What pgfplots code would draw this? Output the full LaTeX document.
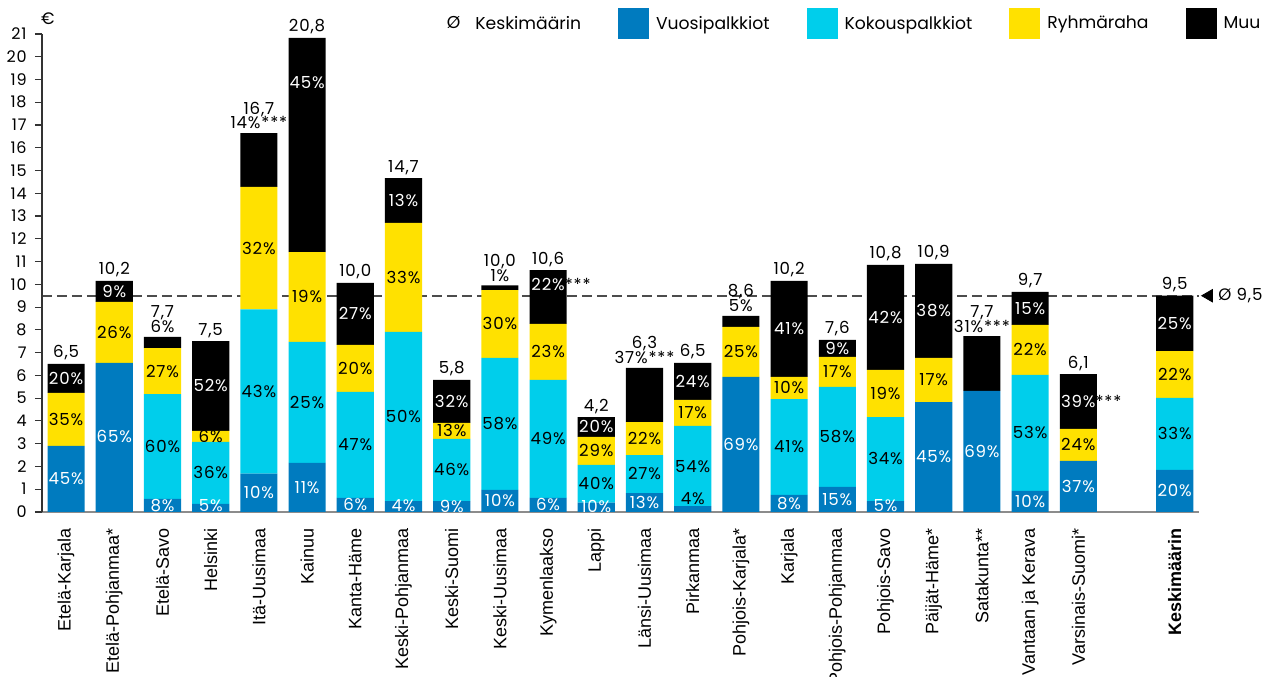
\documentclass[border=0pt]{standalone}
\usepackage{fontspec}
\setmainfont{Poppins}
\newfontfamily\numfont{Poppins}[LetterSpace=5]
\newfontfamily\tickfont{Liberation Sans}
\usepackage{pgfplots}
\usepackage{pgfplotstable}
\pgfplotsset{compat=1.18}

\definecolor{vuosi}{HTML}{007BBF}
\definecolor{kokous}{HTML}{00CEEB}
\definecolor{ryhma}{HTML}{FFE100}
\definecolor{muu}{HTML}{000000}

\newcommand\lblfont{\numfont\fontsize{8.3}{9}\selectfont}
\protected\def\kyast{22\%\rlap{\color{black}***}}
\protected\def\vsast{39\%\rlap{\color{black}***}}

% labels on blue and black segments (white text)
\pgfplotstableread{
x y label
0 1.45 45\%
1 3.30 65\%
2 0.27 8\%
3 0.26 5\%
4 0.84 10\%
5 1.08 11\%
6 0.31 6\%
7 0.26 4\%
8 0.26 9\%
9 0.49 10\%
10 0.31 6\%
11 0.24 10\%
12 0.42 13\%
14 2.97 69\%
15 0.38 8\%
16 0.55 15\%
17 0.26 5\%
18 2.42 45\%
19 2.66 69\%
20 0.46 10\%
21 1.12 37\%
23 0.93 20\%
0 5.87 20\%
1 9.69 9\%
3 5.54 52\%
5 18.87 45\%
6 8.70 27\%
7 13.69 13\%
8 4.86 32\%
10 10.00 \kyast
11 3.74 20\%
13 5.74 24\%
15 8.04 41\%
16 7.19 9\%
17 8.55 42\%
18 8.84 38\%
20 8.95 15\%
21 4.86 \vsast
23 8.29 25\%
}\whitelabels

% labels on cyan and yellow segments (black text)
\pgfplotstableread{
x y label
2 2.88 60\%
3 1.72 36\%
4 5.29 43\%
5 4.81 25\%
6 2.95 47\%
7 4.20 50\%
8 1.85 46\%
9 3.87 58\%
10 3.21 49\%
11 1.24 40\%
12 1.67 27\%
13 1.98 54\%
13 0.58 4\%
15 2.86 41\%
16 3.30 58\%
17 2.33 34\%
20 3.47 53\%
23 3.43 33\%
0 4.07 35\%
1 7.89 26\%
2 6.19 27\%
3 3.32 6\%
4 11.59 32\%
5 9.45 19\%
6 6.31 20\%
7 10.31 33\%
8 3.56 13\%
9 8.26 30\%
10 7.03 23\%
11 2.69 29\%
12 3.23 22\%
13 4.35 17\%
14 7.03 25\%
15 5.45 10\%
16 6.15 17\%
17 5.21 19\%
18 5.80 17\%
20 7.12 22\%
21 2.95 24\%
23 6.04 22\%
}\blacklabels

% small "Muu" shares written above the bar
\pgfplotstableread{
x y label
2 7.69 6\%
4 16.65 14\%***
9 9.95 1\%
12 6.33 37\%***
14 8.61 5\%
19 7.73 31\%***
}\abovelabels

% totals
\pgfplotstableread{
x y label
0 6.50 6,5
1 10.15 10,2
3 7.51 7,5
5 20.83 20,8
6 10.06 10,0
7 14.67 14,7
8 5.80 5,8
10 10.63 10,6
11 4.17 4,2
13 6.55 6,5
15 10.15 10,2
16 7.56 7,6
17 10.85 10,8
18 10.90 10,9
20 9.67 9,7
21 6.06 6,1
23 9.50 9,5
}\totals

\pgfplotstableread{
x y label
2 7.69 7,7
4 16.65 16,7
9 9.95 10,0
12 6.33 6,3
14 8.61 8,6
19 7.73 7,7
}\totalshigh

\begin{document}
\begin{tikzpicture}
\pgfplotsset{
  base/.style={at={(0,0)}, anchor=south west, width=578.5pt, height=239pt,
    scale only axis, xmin=-0.5, xmax=23.5, ymin=0, ymax=21, clip=false},
  boxlegend/.style={legend image code/.code={\fill[##1] (0pt,-7.75pt) rectangle (15.5pt,7.75pt);}},
}

% average line behind the bars
\begin{axis}[base, hide axis]
\addplot[draw=black!70, line width=0.8pt, dash pattern=on 5pt off 2.5pt]
  coordinates {(-0.5,9.5) (23.5,9.5)};
\addplot[only marks, mark=triangle*, mark size=3.6pt,
  mark options={rotate=90, fill=black, draw=black},
  nodes near coords={Ø 9,5},
  every node near coord/.append style={anchor=west, xshift=4.5pt, inner sep=0pt, font=\lblfont}]
  coordinates {(23.71,9.5)};
\end{axis}

\begin{axis}[base, ybar stacked, bar width=0.77,
  axis x line=bottom, axis y line=left,
  x axis line style={-, draw=black!45, line width=1.1pt},
  y axis line style={-, draw=black!80, line width=0.6pt},
  xtick={0,...,21,23},
  xticklabels={Etelä-Karjala, Etelä-Pohjanmaa*, Etelä-Savo, Helsinki, Itä-Uusimaa,
    Kainuu, Kanta-Häme, Keski-Pohjanmaa, Keski-Suomi, Keski-Uusimaa, Kymenlaakso,
    Lappi, Länsi-Uusimaa, Pirkanmaa, Pohjois-Karjala*, Karjala, Pohjois-Pohjanmaa,
    Pohjois-Savo, Päijät-Häme*, Satakunta**, Vantaan ja Kerava, Varsinais-Suomi*,
    {\bfseries Keskimäärin}},
  xtick style={draw=none},
  xticklabel style={rotate=90, anchor=east, inner sep=0pt, xshift=-4.5pt,
    font=\tickfont\fontsize{9}{10}\selectfont},
  ytick={0,...,21},
  tick align=outside, major tick length=3.5pt,
  ytick style={draw=black!80, line width=0.6pt},
  yticklabel style={font=\numfont\fontsize{8}{8}\selectfont, inner sep=0pt, xshift=-4pt,
    /pgf/number format/assume math mode=true},
  ylabel={€},
  every axis y label/.style={at={(rel axis cs:0.005,1.033)}, anchor=center, font=\lblfont},
  legend columns=5,
  legend style={at={(1.057,1.021)}, anchor=east, draw=none, fill=none, inner sep=0pt,
    font=\fontsize{8.6}{9}\selectfont,
    /tikz/every odd column/.append style={column sep=1.5pt},
    /tikz/every even column/.append style={column sep=16.5pt}},
]
\addlegendimage{legend image code/.code={
  \node[inner sep=0pt, anchor=west, text=black, font=\fontsize{8.6}{9}\selectfont] at (0pt,0pt) {Ø};
  \path[draw=none, fill=none] (0pt,-7.75pt) rectangle (11pt,7.75pt);}}
\addplot[fill=vuosi, draw=none, boxlegend] coordinates {
  (0,2.90) (1,6.55) (2,0.57) (3,0.35) (4,1.68) (5,2.15) (6,0.62) (7,0.48)
  (8,0.48) (9,0.97) (10,0.62) (11,0.41) (12,0.83) (13,0.26) (14,5.93) (15,0.75)
  (16,1.10) (17,0.48) (18,4.83) (19,5.32) (20,0.92) (21,2.24) (23,1.85)};
\addplot[fill=kokous, draw=none, boxlegend] coordinates {
  (0,0) (1,0) (2,4.61) (3,2.73) (4,7.22) (5,5.32) (6,4.65) (7,7.43)
  (8,2.73) (9,5.80) (10,5.18) (11,1.66) (12,1.67) (13,3.52) (14,0) (15,4.21)
  (16,4.39) (17,3.69) (18,0) (19,0) (20,5.10) (21,0) (23,3.16)};
\addplot[fill=ryhma, draw=none, boxlegend] coordinates {
  (0,2.33) (1,2.68) (2,2.02) (3,0.48) (4,5.38) (5,3.95) (6,2.07) (7,4.79)
  (8,0.70) (9,2.98) (10,2.46) (11,1.23) (12,1.45) (13,1.14) (14,2.20) (15,0.97)
  (16,1.32) (17,2.07) (18,1.94) (19,0) (20,2.20) (21,1.41) (23,2.06)};
\addplot[fill=muu, draw=none, boxlegend] coordinates {
  (0,1.27) (1,0.92) (2,0.49) (3,3.95) (4,2.37) (5,9.41) (6,2.72) (7,1.97)
  (8,1.89) (9,0.20) (10,2.37) (11,0.87) (12,2.38) (13,1.63) (14,0.48) (15,4.22)
  (16,0.75) (17,4.61) (18,4.13) (19,2.41) (20,1.45) (21,2.41) (23,2.43)};
\legend{Keskimäärin, Vuosipalkkiot, Kokouspalkkiot, Ryhmäraha, Muu}
\end{axis}

% value labels on top
\begin{axis}[base, hide axis, point meta=explicit symbolic,
  every node near coord/.append style={font=\lblfont, inner sep=0pt}]
\addplot[draw=none, nodes near coords,
  every node near coord/.append style={anchor=center, text=white}]
  table[meta=label] {\whitelabels};
\addplot[draw=none, nodes near coords,
  every node near coord/.append style={anchor=center, text=black}]
  table[meta=label] {\blacklabels};
\addplot[draw=none, nodes near coords,
  every node near coord/.append style={anchor=base, yshift=2pt, text=black}]
  table[meta=label] {\abovelabels};
\addplot[draw=none, nodes near coords,
  every node near coord/.append style={anchor=base, yshift=3pt, text=black}]
  table[meta=label] {\totals};
\addplot[draw=none, nodes near coords,
  every node near coord/.append style={anchor=base, yshift=9.5pt, text=black}]
  table[meta=label] {\totalshigh};
\end{axis}

\pgfresetboundingbox
\path[use as bounding box] (-21pt,-82.5pt) rectangle (613.6pt,256pt);
\end{tikzpicture}
\end{document}
